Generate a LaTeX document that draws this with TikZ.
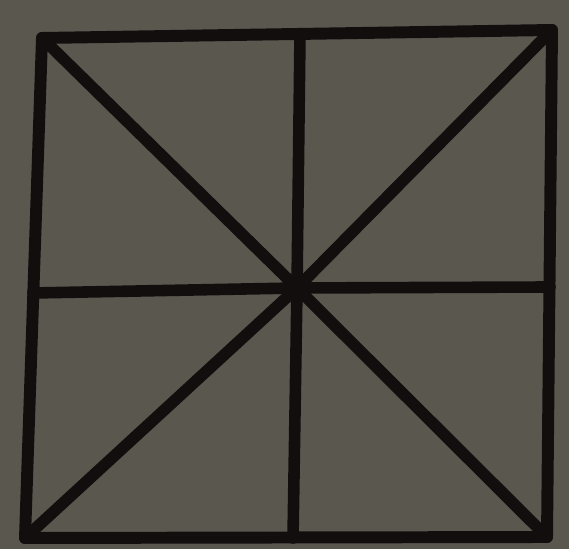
\documentclass[tikz,border=0pt]{standalone}
\usetikzlibrary{calc}
\definecolor{PaperGrey}{RGB}{90,87,79}
\definecolor{InkBlack}{RGB}{18,14,14}
\tikzset{
  paper/.style={fill=PaperGrey,draw=none},
  frame/.style={draw=InkBlack,line width=3.4pt,line join=round},
  spoke/.style={draw=InkBlack,line width=3.3pt,line cap=round}
}
\begin{document}
\begin{tikzpicture}[x=1cm,y=1cm]
  \fill[paper] (0,0) rectangle (5.69,5.49);
  \useasboundingbox (0,0) rectangle (5.69,5.49);
  % corners of the square
  \coordinate (tl) at (0.42,5.11);
  \coordinate (tr) at (5.52,5.19);
  \coordinate (br) at (5.47,0.12);
  \coordinate (bl) at (0.25,0.11);
  % midpoints of the sides
  \coordinate (tm) at (3.00,5.15);
  \coordinate (rm) at (5.50,2.62);
  \coordinate (bm) at (2.93,0.11);
  \coordinate (lm) at (0.33,2.56);
  \coordinate (c) at (2.97,2.61);
  \draw[frame] (tl)--(tr)--(br)--(bl)--cycle;
  \draw[spoke] (tl)--(c)--(br);
  \draw[spoke] (tr)--(c)--(bl);
  \draw[spoke] (tm)--(c)--(bm);
  \draw[spoke] (lm)--(c)--(rm);
  \fill[InkBlack] (c) circle (0.09);
\end{tikzpicture}
\end{document}
